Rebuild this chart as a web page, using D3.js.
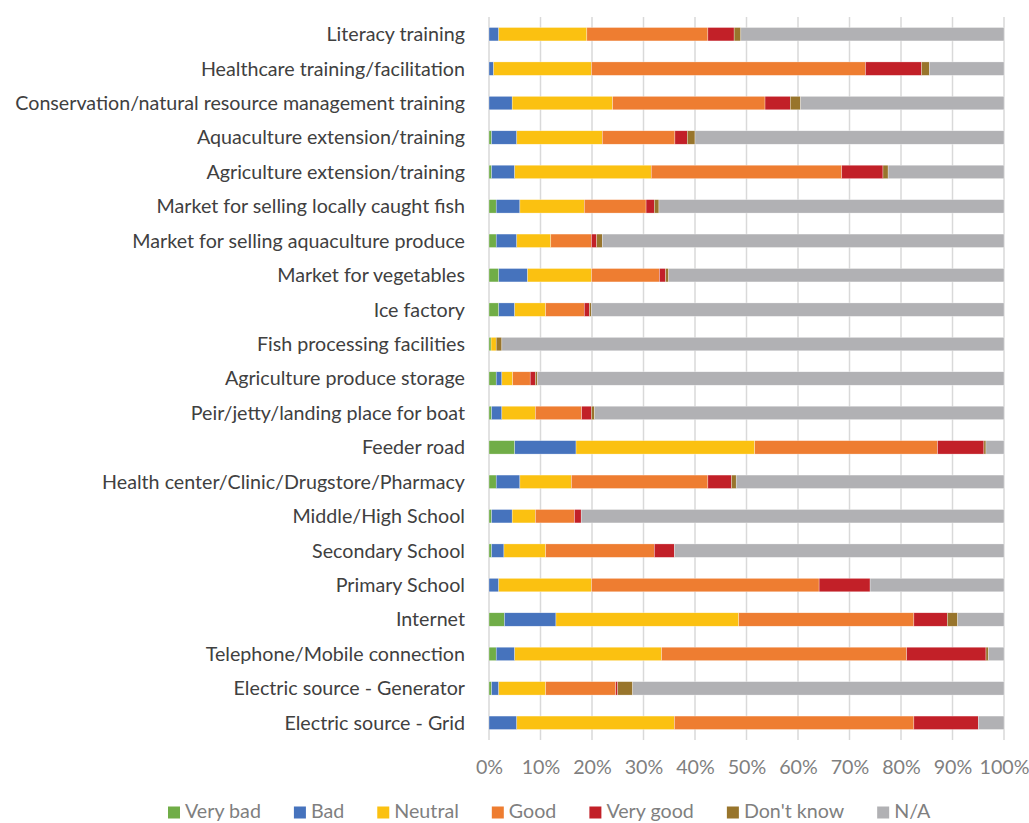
<!DOCTYPE html>
<html>
<head>
<meta charset="utf-8">
<script src="https://cdn.jsdelivr.net/npm/d3@7"></script>
<style>
  html, body { margin: 0; padding: 0; background: #fff; }
  svg { display: block; }
</style>
</head>
<body>
<svg id="chart" width="1029" height="823"></svg>
<script>
const categories = [
  "Literacy training",
  "Healthcare training/facilitation",
  "Conservation/natural resource management training",
  "Aquaculture extension/training",
  "Agriculture extension/training",
  "Market for selling locally caught fish",
  "Market for selling aquaculture produce",
  "Market for vegetables",
  "Ice factory",
  "Fish processing facilities",
  "Agriculture produce storage",
  "Peir/jetty/landing place for boat",
  "Feeder road",
  "Health center/Clinic/Drugstore/Pharmacy",
  "Middle/High School",
  "Secondary School",
  "Primary School",
  "Internet",
  "Telephone/Mobile connection",
  "Electric source - Generator",
  "Electric source - Grid"
];

const seriesNames = ["Very bad", "Bad", "Neutral", "Good", "Very good", "Don't know", "N/A"];

const veryBad  = [0, 0, 0, 0.5, 0.5, 1.4, 1.4, 1.9, 1.9, 0.4, 1.4, 0.5, 5.0, 1.4, 0.5, 0.5, 0, 3.0, 1.4, 0.5, 0];
const bad      = [1.9, 0.9, 4.5, 4.9, 4.5, 4.6, 4.0, 5.6, 3.1, 0, 1.1, 2.0, 11.9, 4.6, 4.0, 2.4, 1.9, 10.0, 3.6, 1.4, 5.4];
const neutral  = [17.1, 19.0, 19.5, 16.6, 26.5, 12.5, 6.6, 12.4, 6.0, 1.0, 2.1, 6.5, 34.7, 10.0, 4.5, 8.1, 18.0, 35.5, 28.5, 9.1, 30.6];
const good     = [23.5, 53.2, 29.6, 14.1, 37.0, 12.0, 7.9, 13.2, 7.5, 0, 3.4, 9.0, 35.5, 26.5, 7.6, 21.1, 44.2, 34.0, 47.6, 13.6, 46.5];
const veryGood = [5.1, 10.9, 4.9, 2.4, 8.0, 1.6, 1.0, 1.2, 1.0, 0, 1.0, 1.9, 9.0, 4.6, 1.3, 3.9, 9.9, 6.5, 15.4, 0.4, 12.5];
const dontKnow = [1.3, 1.5, 2.0, 1.5, 1.0, 0.9, 1.1, 0.6, 0.4, 1.1, 0.4, 0.6, 0.4, 0.9, 0, 0, 0, 2.0, 0.5, 2.9, 0];
const na       = [51.1, 14.5, 39.5, 60.0, 22.5, 67.0, 78.0, 65.1, 80.1, 97.5, 90.6, 79.5, 3.5, 52.0, 82.1, 64.0, 26.0, 9.0, 3.0, 72.1, 5.0];

const tickValues = [0, 0.1, 0.2, 0.3, 0.4, 0.5, 0.6, 0.7, 0.8, 0.9, 1.0];

const colors = ["#70AD47", "#4673BD", "#FBC111", "#EE7D31", "#C22028", "#98752C", "#B1B1B4"];

(function () {
  const seriesValues = [veryBad, bad, neutral, good, veryGood, dontKnow, na];
  const rows = categories.map((c, i) => {
    const r = { category: c };
    seriesNames.forEach((s, j) => { r[s] = seriesValues[j][i]; });
    return r;
  });

  const svg = d3.select("#chart");
  const FONT = "Lato, 'Open Sans', sans-serif";

  // calibrate font size so longest label spans the same width as in the reference
  const probe = svg.append("text").attr("font-family", FONT).attr("font-size", 20)
    .text("Conservation/natural resource management training");
  const probeW = probe.node().getComputedTextLength();
  probe.remove();
  const fs = 20 * 450 / probeW;

  const pLeft = 489, pRight = 1004, pTop = 17, pBottom = 740;

  const x = d3.scaleLinear().domain([0, 1]).range([pLeft, pRight]);
  const pad = 0.61;
  const y = d3.scaleBand().domain(categories).range([pTop, pBottom])
    .paddingInner(pad).paddingOuter(pad / 2);

  // gridlines
  svg.append("g").selectAll("line").data(tickValues).join("line")
    .attr("x1", d => x(d)).attr("x2", d => x(d))
    .attr("y1", pTop).attr("y2", pBottom)
    .attr("stroke", "#d9d9d9").attr("stroke-width", 1.5);

  const stack = d3.stack().keys(seriesNames).offset(d3.stackOffsetExpand);
  const stacked = stack(rows);

  svg.append("g").selectAll("g").data(stacked).join("g")
    .attr("fill", (d, i) => colors[i])
    .selectAll("rect").data(d => d).join("rect")
    .attr("x", d => x(d[0]))
    .attr("y", d => y(d.data.category))
    .attr("width", d => Math.max(0, x(d[1]) - x(d[0])))
    .attr("height", y.bandwidth())
    .attr("stroke", "#ffffff").attr("stroke-width", 0.5).attr("stroke-opacity", 0.6);

  // category axis
  const yAxis = d3.axisLeft(y).tickSize(0).tickPadding(0);
  const gy = svg.append("g").attr("transform", `translate(${pLeft - 24},0)`).call(yAxis);
  gy.select(".domain").remove();
  gy.selectAll("text").attr("font-family", FONT).attr("font-size", fs)
    .attr("fill", "#404040").attr("dy", "0.35em");

  // value axis
  const xAxis = d3.axisBottom(x).tickValues(tickValues).tickFormat(d3.format(".0%")).tickSize(0).tickPadding(0);
  const gx = svg.append("g").attr("transform", `translate(0,${pBottom})`).call(xAxis);
  gx.select(".domain").remove();
  gx.selectAll("text").attr("font-family", FONT).attr("font-size", fs)
    .attr("fill", "#7f7f7f").attr("dy", null).attr("y", 34);

  // legend
  const legend = svg.append("g");
  let lx = 168;
  const ly = 818;
  seriesNames.forEach((s, i) => {
    legend.append("rect").attr("x", lx).attr("y", ly - 11.5).attr("width", 12).attr("height", 12)
      .attr("fill", colors[i]);
    const t = legend.append("text").attr("x", lx + 17).attr("y", ly)
      .attr("font-family", FONT).attr("font-size", fs).attr("fill", "#7f7f7f").text(s);
    lx += 17 + t.node().getComputedTextLength() + 33;
  });
})();
</script>
</body>
</html>
